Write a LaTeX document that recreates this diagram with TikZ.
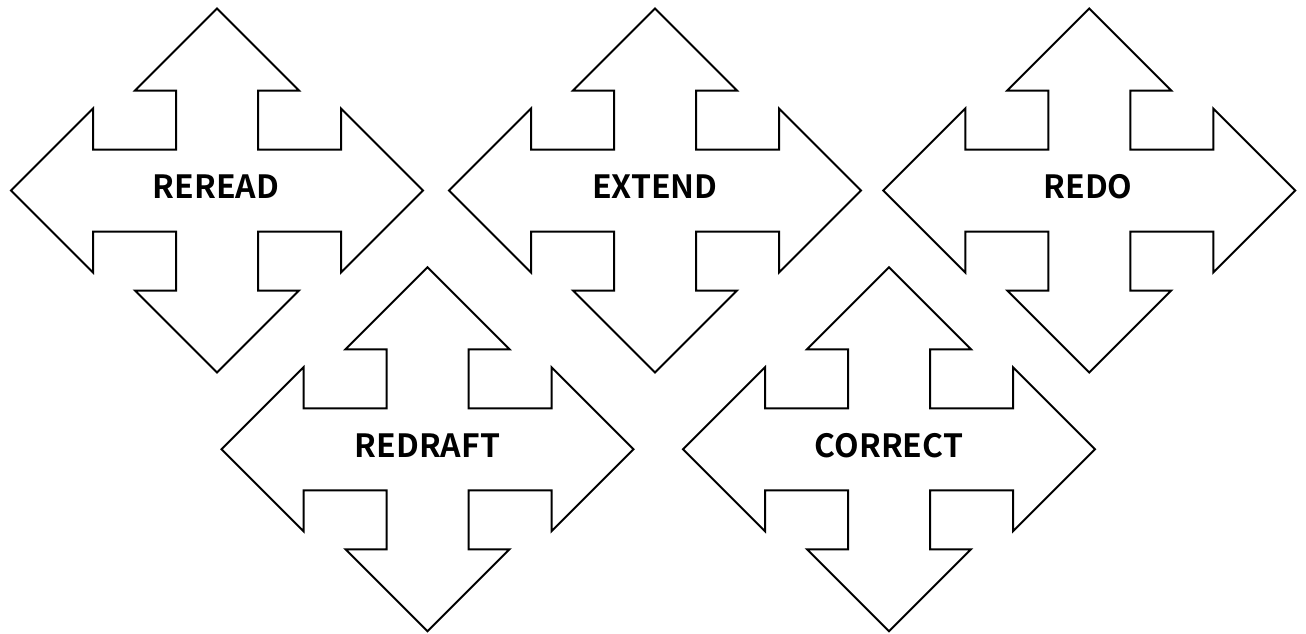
\documentclass[tikz,border=0pt]{standalone}
\usepackage{fontspec}
\newfontfamily\labelfont{Noto Sans CJK JP}[BoldFont={Noto Sans CJK JP Bold}]
\tikzset{
  x=1pt, y=-1pt,
  arrowline/.style={draw=black, fill=white, line width=2pt, line join=miter},
  label/.style={font=\labelfont\bfseries\fontsize{32}{32}\selectfont, inner sep=0pt},
  % four-headed arrow centred on the pic origin
  quadarrow/.pic={
    \path[arrowline]
      (0,-182) -- (82,-100) -- (41,-100) -- (41,-41) -- (124,-41) -- (124,-82)
      -- (206,0) -- (124,82) -- (124,41) -- (41,41) -- (41,100) -- (82,100)
      -- (0,182) -- (-82,100) -- (-41,100) -- (-41,41) -- (-124,41) -- (-124,82)
      -- (-206,0) -- (-124,-82) -- (-124,-41) -- (-41,-41) -- (-41,-100) -- (-82,-100)
      -- cycle;
  }
}
\begin{document}
\begin{tikzpicture}
  \useasboundingbox (0,0) rectangle (1306,633);

  \pic at (217,190.5)   {quadarrow};
  \pic at (655,190.5)   {quadarrow};
  \pic at (1089.3,190.5){quadarrow};
  \pic at (427.5,449.3) {quadarrow};
  \pic at (889,449.3)   {quadarrow};

  \node[label] (reread)  at (216,186.5)   {REREAD};
  \node[label] (extend)  at (655,186.5)   {EXTEND};
  \node[label] (redo)    at (1088,186.5)  {REDO};
  \node[label] (redraft) at (427.5,445.3) {REDRAFT};
  \node[label] (correct) at (889,445.3)   {CORRECT};
\end{tikzpicture}
\end{document}
